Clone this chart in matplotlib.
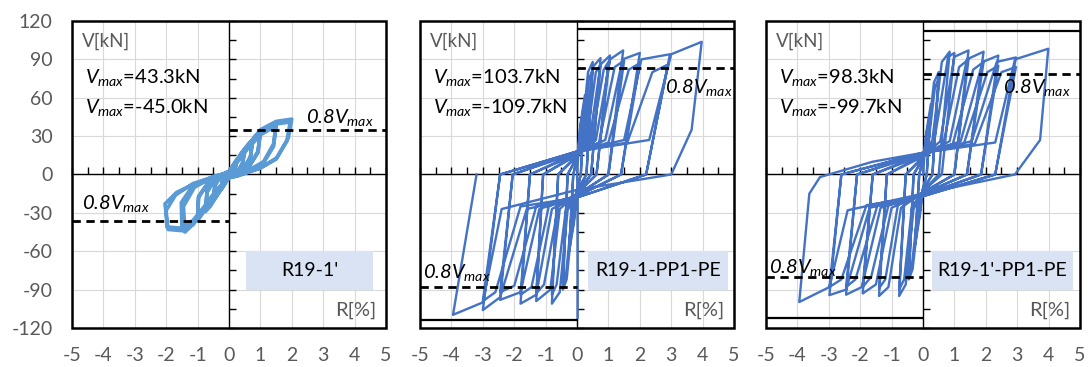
import matplotlib
matplotlib.use('Agg')
import matplotlib.pyplot as plt
from matplotlib.patches import Rectangle
from matplotlib.ticker import MultipleLocator

plt.rcParams['font.family'] = ['Lato', 'DejaVu Sans']
plt.rcParams['mathtext.fontset'] = 'custom'
plt.rcParams['mathtext.rm'] = 'Lato'
plt.rcParams['mathtext.it'] = 'Lato:italic'
plt.rcParams['mathtext.sf'] = 'Lato:italic'
plt.rcParams['axes.unicode_minus'] = False

# specimen names and peak loads
names = ["R19-1'", "R19-1-PP1-PE", "R19-1'-PP1-PE"]
vmax_pos = [43.3, 103.7, 98.3]
vmax_neg = [-45.0, -109.7, -99.7]
v_cap = [None, 113.5, 112.0]   # solid lines (panels 2 and 3)

# R19-1' : R[%], V[kN]
r1 = [0,
      0.12, 0.25, 0.2, 0.1, 0, -0.12, -0.25, -0.21, -0.1, 0,
      0.12, 0.25, 0.2, 0.1, 0, -0.12, -0.25, -0.21, -0.1, 0,
      0.25, 0.4, 0.5, 0.44, 0.3, 0, -0.25, -0.4, -0.5, -0.45, -0.3, 0,
      0.25, 0.4, 0.5, 0.44, 0.3, 0, -0.25, -0.4, -0.5, -0.45, -0.3, 0,
      0.35, 0.6, 0.75, 0.68, 0.45, 0, -0.35, -0.6, -0.75, -0.7, -0.45, 0,
      0.35, 0.6, 0.75, 0.68, 0.45, 0, -0.35, -0.6, -0.75, -0.7, -0.45, 0,
      0.5, 0.8, 1.0, 0.92, 0.6, 0, -0.45, -0.8, -1.0, -0.97, -0.6, 0,
      0.5, 0.8, 1.0, 0.92, 0.6, 0, -0.45, -0.8, -1.0, -0.97, -0.6, 0,
      0.56, 1.0, 1.5, 1.42, 1.1, 0.6, 0, -0.4, -0.82, -1.15, -1.4, -1.45, -1.1, -0.5, 0,
      0.56, 1.0, 1.5, 1.42, 1.1, 0.6, 0, -0.4, -0.82, -1.15, -1.5, -1.52, -1.15, -0.5, 0,
      0.56, 1.0, 1.5, 2.0, 1.89, 1.52, 1.0, 0.25, 0, -0.39, -0.82, -1.14, -1.46, -1.94, -2.04, -1.67, -1.14, -0.39, 0,
      0.56, 1.0, 1.5, 1.95, 1.84, 1.5, 1.0, 0.25, 0, -0.39, -0.82, -1.14, -1.5, -1.98, -2.0, -1.7, -1.14, -0.39, 0]
v1 = [0,
      7, 12, 5, 1, -1, -7, -12, -5, -1, 1,
      6.5, 11, 4.5, 1, -1, -6.5, -11, -4.5, -1, 1,
      11, 17, 20, 10, 3, -1.5, -11, -17, -20, -9, -2.5, 1.5,
      10, 15.5, 18, 9, 2.5, -1.5, -10.5, -16, -19, -8.5, -2.3, 1.4,
      15, 23.5, 27, 14, 4, -2, -15.5, -25, -29, -14, -4, 2,
      14, 22, 25, 13, 3.5, -2, -14.5, -23.5, -27, -13, -3.5, 2,
      19, 29, 34, 18, 5, -2.5, -17, -29, -36, -18, -4.5, 2.5,
      18, 27.5, 32, 17, 4.5, -2.5, -16, -27.5, -34, -17, -4.2, 2.5,
      20, 33, 40, 24, 10, 3, -2.5, -13, -28, -39, -45, -25, -10, -2, 1.5,
      19, 31, 38, 22, 9, 2.5, -2.5, -12, -26, -36, -41, -22, -8.5, -1.5, 1.5,
      21, 35, 41.5, 43.3, 28.6, 13, 5.2, -1.3, -2.5, -13, -28.6, -39, -44, -43, -23, -14, -7.8, -1.3, 1,
      20, 33, 39.5, 41, 26, 12, 5, -1.2, -2.3, -12.5, -27.5, -37, -42, -41, -28, -16, -7, -1.2, 1]

# R19-1-PP1-PE
r2 = [0.02, 0.02, 0,
      0.1, 0.25, 0.12, 0, -0.1, -0.25, -0.12,
      0, 0.1, 0.25, 0.12, 0, -0.1, -0.25, -0.12,
      0, 0.15, 0.35, 0.5, 0.3, 0, -0.12, -0.33, -0.45, -0.3,
      0, 0.18, 0.38, 0.5, 0.3, 0, -0.15, -0.35, -0.45, -0.3,
      0, 0.25, 0.5, 0.75, 0.45, 0, -0.3, -0.55, -0.8, -0.6,
      0, 0.3, 0.6, 0.75, 0.45, 0, -0.35, -0.65, -0.8, -0.6,
      0, 0.4, 0.75, 1.05, 0.62, 0, -0.55, -0.85, -1.3, -1.08,
      0, 0.45, 0.85, 1.0, 0.62, 0, -0.6, -1.05, -1.3, -1.08,
      0, 0.6, 1.05, 1.47, 1.0, 0, -0.8, -1.3, -1.8, -1.5,
      0, 0.7, 1.2, 1.5, 1.0, 0, -0.9, -1.45, -1.8, -1.5,
      0, 0.9, 1.45, 2.0, 1.4, 0, -1.2, -1.8, -2.45, -2.05,
      0, 1.0, 1.65, 2.0, 1.4, 0, -1.3, -2.0, -2.45, -2.05,
      0, 1.5, 2.05, 2.96, 2.2, 0, -1.6, -2.45, -3.0, -2.45,
      0, 1.6, 2.4, 2.9, 2.2, 0, -1.8, -2.6, -3.0, -2.45,
      0, 2.3, 3.0, 3.97, 3.65, 3.0, 0, -2.4, -3.0, -3.95, -3.2]
v2 = [-112, -15, 0,
      38, 62, 0, -12, -38, -60, 0,
      12, 36, 58, 0, -12, -36, -57, 0,
      13, 30, 80, 88, 0, -13, -30, -82, -90, 0,
      13, 28, 75, 82, 0, -13, -28, -78, -85, 0,
      14, 28, 84, 91, 0, -14, -28, -92, -101, 0,
      14, 26, 80, 86, 0, -14, -26, -86, -94, 0,
      15, 27, 86, 93, 0, -15, -27, -90, -99, 0,
      15, 25, 82, 88, 0, -15, -25, -86, -93, 0,
      16, 27, 90, 97, 0, -16, -27, -94, -101, 0,
      16, 25, 84, 89, 0, -16, -25, -88, -94, 0,
      17, 27, 90, 95, 0, -17, -27, -92, -98, 0,
      17, 25, 82, 87, 0, -17, -25, -87, -92, 0,
      18, 27, 90, 94, 0, -18, -27, -96, -106, 0,
      18, 25, 80, 86, 0, -18, -25, -92, -99, 0,
      18, 27, 94, 103.7, 35, 0, -12, -27, -100, -109.7, 0]

# R19-1'-PP1-PE
r3 = [0,
      0.1, 0.25, 0.12, 0, -0.1, -0.25, -0.12,
      0, 0.1, 0.25, 0.12, 0, -0.1, -0.25, -0.12,
      0, 0.15, 0.35, 0.5, 0.3, 0, -0.12, -0.33, -0.45, -0.3,
      0, 0.18, 0.38, 0.5, 0.3, 0, -0.15, -0.35, -0.45, -0.3,
      0, 0.3, 0.6, 0.85, 0.5, 0, -0.3, -0.55, -0.76, -0.55,
      0, 0.35, 0.8, 1.0, 0.6, 0, -0.35, -0.6, -0.76, -0.55,
      0, 0.55, 1.0, 1.45, 1.0, 0, -0.7, -1.1, -1.4, -1.15,
      0, 0.65, 1.15, 1.45, 1.0, 0, -0.8, -1.2, -1.4, -1.15,
      0, 0.85, 1.4, 1.93, 1.4, 0, -1.0, -1.5, -1.92, -1.6,
      0, 0.95, 1.6, 1.93, 1.4, 0, -1.1, -1.65, -1.92, -1.6,
      0, 1.2, 1.9, 2.4, 1.85, 0, -1.35, -1.95, -2.45, -2.1,
      0, 1.3, 2.05, 2.4, 1.85, 0, -1.45, -2.15, -2.45, -2.1,
      0, 1.55, 2.35, 2.96, 2.3, 0, -1.7, -2.45, -2.98, -2.6,
      0, 1.65, 2.5, 2.96, 2.3, 0, -1.8, -2.6, -2.98, -2.6,
      0, 2.3, 2.93, 3.99, 3.73, 2.93, 0, -2.4, -2.98, -3.94, -3.62, -3.28, -1.6, 0]
v3 = [0,
      32, 55, 0, -11, -32, -55, 0,
      11, 30, 50, 0, -11, -30, -50, 0,
      12, 28, 72, 80, 0, -12, -28, -74, -82, 0,
      12, 26, 68, 75, 0, -12, -26, -70, -78, 0,
      13, 27, 88, 96, 0, -13, -27, -86, -95, 0,
      13, 25, 92, 95, 0, -13, -25, -82, -90, 0,
      14, 26, 92, 97, 0, -14, -26, -88, -95, 0,
      14, 24, 84, 90, 0, -14, -24, -82, -89, 0,
      15, 26, 90, 96, 0, -15, -26, -86, -93, 0,
      15, 24, 82, 88, 0, -15, -24, -80, -88, 0,
      16, 26, 88, 93, 0, -16, -26, -88, -94, 0,
      16, 24, 80, 85, 0, -16, -24, -82, -88, 0,
      17, 26, 88, 91.5, 0, -17, -26, -90, -94.3, 0,
      17, 24, 80, 84, 0, -17, -24, -82, -88, 0,
      17, 25, 90, 98.3, 27, 0, -15, -28, -88, -99.7, -15, -2, 10, 17]

curves = [(r1, v1), (r2, v2), (r3, v3)]
colors = ['#5B9BD5', '#4472C4', '#4472C4']
widths = [2.6, 1.7, 1.7]
x_ticks = list(range(-5, 6))
y_ticks = list(range(-120, 121, 30))

# label box x-extent per panel
box_x = [(0.55, 4.6), (0.35, 4.8), (0.29, 4.78)]
# 0.8Vmax label positions (upper, lower)
lab_up = [(2.45, 36.5, 'bottom'), (2.8, 68, 'center'), (2.55, 68, 'center')]
lab_dn = [(-4.68, -31, 'bottom'), (-4.9, -77, 'center'), (-4.9, -73, 'center')]

gray = '#595959'
fig = plt.figure(figsize=(10.91, 3.67), dpi=100)
lefts = [0.066, 0.385, 0.7021]

for i in range(3):
    ax = fig.add_axes([lefts[i], 0.1063, 0.2878, 0.8365])
    ax.set_xlim(-5, 5)
    ax.set_ylim(-120, 120)

    # axes through the origin with small ticks
    ax.spines['left'].set_position(('data', 0))
    ax.spines['bottom'].set_position(('data', 0))
    ax.spines['top'].set_visible(False)
    ax.spines['right'].set_visible(False)
    for s in ['left', 'bottom']:
        ax.spines[s].set_linewidth(1.0)
    ax.xaxis.set_major_locator(MultipleLocator(1))
    ax.xaxis.set_minor_locator(MultipleLocator(0.5))
    ax.yaxis.set_major_locator(MultipleLocator(30))
    ax.yaxis.set_minor_locator(MultipleLocator(15))
    ax.tick_params(which='both', direction='in', length=5, width=1,
                   labelbottom=False, labelleft=False)
    ax.grid(True, which='major', color='#d9d9d9', lw=0.8)
    ax.set_axisbelow(True)
    ax.add_patch(Rectangle((0, 0), 1, 1, transform=ax.transAxes, fill=False,
                           lw=1.8, ec='black', clip_on=False, zorder=5))

    sx = ax.secondary_xaxis('bottom')
    sx.set_xticks(x_ticks)
    sx.tick_params(length=0, pad=14, labelsize=14, labelcolor=gray)
    sx.spines['bottom'].set_visible(False)
    if i == 0:
        sy = ax.secondary_yaxis('left')
        sy.set_yticks(y_ticks)
        sy.tick_params(length=0, pad=14, labelsize=14, labelcolor=gray)
        sy.spines['left'].set_visible(False)

    # label box
    x0, x1 = box_x[i]
    ax.add_patch(Rectangle((x0, -90), x1 - x0, 30, fc='#DAE3F3', ec='none', zorder=1.5))
    ax.text((x0 + x1) / 2, -75, names[i], ha='center', va='center', fontsize=14, zorder=6)

    # hysteresis curve
    r, v = curves[i]
    ax.plot(r, v, color=colors[i], lw=widths[i], solid_joinstyle='round', zorder=3)

    # reference lines
    ax.hlines(0.8 * vmax_pos[i], 0, 5, colors='black', lw=2, linestyles=(0, (3, 2)), zorder=4)
    ax.hlines(0.8 * vmax_neg[i], -5, 0, colors='black', lw=2, linestyles=(0, (3, 2)), zorder=4)
    if v_cap[i] is not None:
        ax.hlines(v_cap[i], 0, 5, colors='black', lw=1.6, zorder=4)
        ax.hlines(-v_cap[i], -5, 0, colors='black', lw=1.6, zorder=4)

    ax.text(lab_up[i][0], lab_up[i][1], r'$\mathsf{0.8V_{max}}$', fontsize=14.5,
            va=lab_up[i][2], zorder=6)
    ax.text(lab_dn[i][0], lab_dn[i][1], r'$\mathsf{0.8V_{max}}$', fontsize=14.5,
            va=lab_dn[i][2], zorder=6)

    ax.text(-4.6, 76, r'$V_{max}$=%.1fkN' % vmax_pos[i], fontsize=14.5, va='center', zorder=6)
    ax.text(-4.6, 52, r'$V_{max}$=%.1fkN' % vmax_neg[i], fontsize=14.5, va='center', zorder=6)

    ax.text(-4.68, 104, 'V[kN]', color=gray, fontsize=13.5, va='center', zorder=6)
    ax.text(4.7, -106, 'R[%]', color=gray, fontsize=14.5, va='center', ha='right', zorder=6)

fig.savefig('out.png', dpi=100)
